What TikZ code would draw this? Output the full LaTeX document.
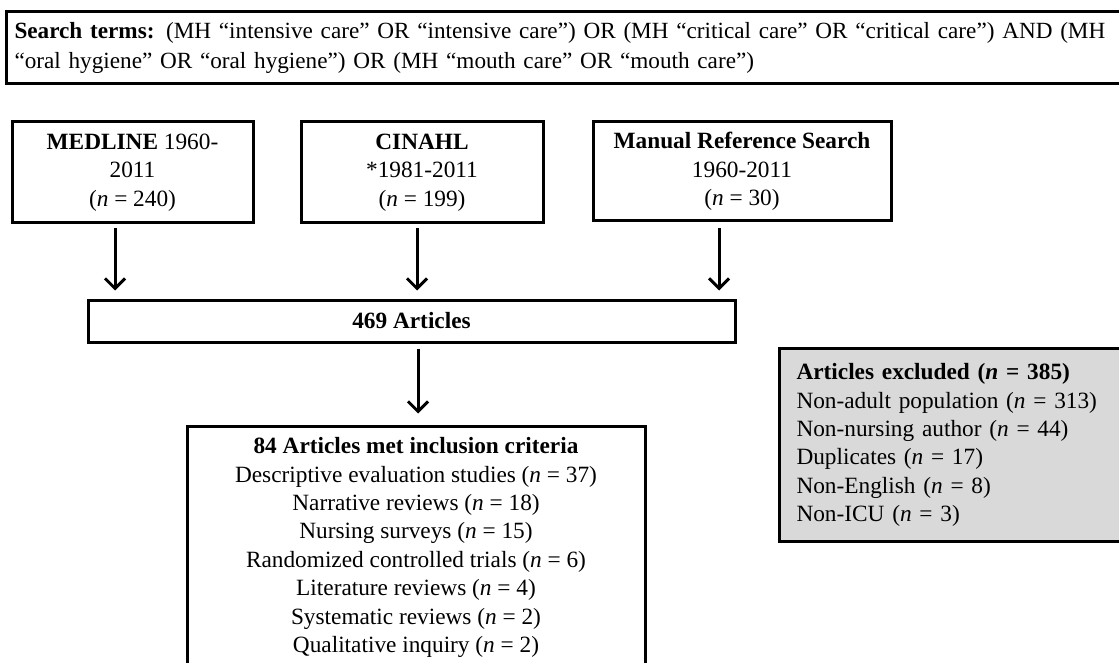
\documentclass[tikz,border=0pt]{standalone}
\usepackage{fontspec}
\setmainfont{Liberation Serif}
\usetikzlibrary{arrows.meta}
\definecolor{exgray}{RGB}{217,217,217}
\tikzset{
  box/.style={draw, line width=3pt, inner sep=0pt, align=center,
    font=\fontsize{23.3}{28.4}\selectfont},
  arr/.style={line width=3pt, -{Straight Barb[length=10pt,width=20pt,line width=3pt]}},
}
\begin{document}
\begin{tikzpicture}[x=1pt,y=-1pt]
\useasboundingbox (0,0) rectangle (1119,663);
\clip (0,0) rectangle (1119,663);
\fill[white] (0,0) rectangle (1119,663);

\node[box, anchor=north west, minimum height=72pt, text width=1104pt, inner xsep=8pt,
  align=left, font=\fontsize{23.2}{30}\selectfont] (terms) at (5,10)
  {\textbf{Search terms:} (MH “intensive care” OR “intensive care”) OR (MH “critical care” OR “critical care”) AND (MH\\
   “oral hygiene” OR “oral hygiene”) OR (MH “mouth care” OR “mouth care”)};

\node[box, minimum width=241pt, minimum height=101pt] (medline) at (132.5,172.5)
  {\textbf{MEDLINE} 1960-\\2011\\(\textit{n} = 240)};
\node[box, minimum width=242pt, minimum height=101pt] (cinahl) at (422,172.5)
  {\textbf{CINAHL}\\*1981-2011\\(\textit{n} = 199)};
\node[box, minimum width=298pt, minimum height=99pt] (manual) at (742,171.5)
  {\textbf{Manual Reference Search}\\1960-2011\\(\textit{n} = 30)};

\node[box, minimum width=647pt, minimum height=42pt] (arts) at (411.5,321)
  {\textbf{469 Articles}};

\node[box, minimum width=458pt, minimum height=243pt] (incl) at (416,547.5)
  {\textbf{84 Articles met inclusion criteria}\\
   Descriptive evaluation studies (\textit{n} = 37)\\
   Narrative reviews (\textit{n} = 18)\\
   Nursing surveys (\textit{n} = 15)\\
   Randomized controlled trials (\textit{n} = 6)\\
   Literature reviews (\textit{n} = 4)\\
   Systematic reviews (\textit{n} = 2)\\
   Qualitative inquiry (\textit{n} = 2)};

\node[box, fill=exgray, anchor=north west, minimum width=360pt, minimum height=193pt,
  text width=326pt, inner xsep=17pt, align=left] (excl) at (778,347)
  {\textbf{Articles excluded (\textit{n} = 385)}\\
   Non-adult population (\textit{n} = 313)\\
   Non-nursing author (\textit{n} = 44)\\
   Duplicates (\textit{n} = 17)\\
   Non-English (\textit{n} = 8)\\
   Non-ICU (\textit{n} = 3)};

\coordinate (c1) at (115,0);
\coordinate (c2) at (417,0);
\coordinate (c3) at (719,0);
\coordinate (c4) at (418,0);
\draw[arr, shorten <=4pt, shorten >=8pt] (medline.south -| c1) -- (arts.north -| c1);
\draw[arr, shorten <=4pt, shorten >=8pt] (cinahl.south -| c2) -- (arts.north -| c2);
\draw[arr, shorten <=6pt, shorten >=8pt] (manual.south -| c3) -- (arts.north -| c3);
\draw[arr, shorten <=5pt, shorten >=11pt] (arts.south -| c4) -- (incl.north -| c4);
\end{tikzpicture}
\end{document}
